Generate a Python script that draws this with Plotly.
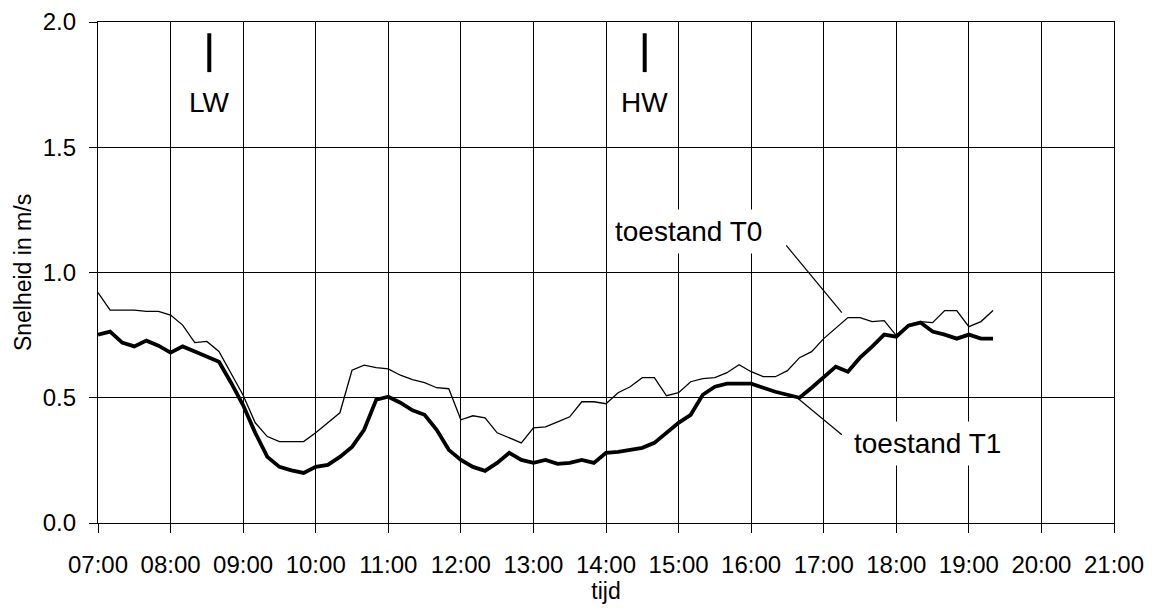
import plotly.graph_objects as go
import pandas as pd

# time stamps (10-minute steps from 07:00)
times = pd.date_range("2000-01-01 07:00", periods=75, freq="10min")

t0_values = [0.92, 0.85, 0.85, 0.85, 0.845, 0.845, 0.83, 0.79, 0.72, 0.725,
             0.685, 0.60, 0.51, 0.40, 0.345, 0.325, 0.325, 0.325, 0.36, 0.40,
             0.44, 0.61, 0.63, 0.62, 0.615, 0.59, 0.572, 0.56, 0.54, 0.536,
             0.412, 0.428, 0.42, 0.36, 0.34, 0.32, 0.38, 0.384, 0.404, 0.424,
             0.484, 0.484, 0.476, 0.52, 0.544, 0.58, 0.58, 0.508, 0.52, 0.564,
             0.576, 0.58, 0.60, 0.632, 0.604, 0.584, 0.584, 0.608, 0.66, 0.684,
             0.736, 0.78, 0.82, 0.82, 0.804, 0.808, 0.748, 0.792, 0.804, 0.80,
             0.848, 0.848, 0.784, 0.804, 0.848]

t1_values = [0.752, 0.764, 0.72, 0.705, 0.728, 0.708, 0.68, 0.705, 0.685, 0.664,
             0.644, 0.56, 0.47, 0.36, 0.264, 0.224, 0.21, 0.20, 0.224, 0.232,
             0.264, 0.304, 0.372, 0.492, 0.504, 0.48, 0.45, 0.432, 0.372, 0.292,
             0.252, 0.224, 0.208, 0.24, 0.28, 0.252, 0.24, 0.252, 0.236, 0.24,
             0.252, 0.24, 0.28, 0.284, 0.292, 0.30, 0.32, 0.36, 0.40, 0.432,
             0.512, 0.544, 0.556, 0.556, 0.556, 0.54, 0.524, 0.512, 0.50, 0.54,
             0.58, 0.624, 0.604, 0.66, 0.704, 0.752, 0.744, 0.788, 0.80, 0.764,
             0.752, 0.736, 0.752, 0.736, 0.736]

# tide markers
tide_labels = ["LW", "HW"]
tide_times = ["2000-01-01 08:32", "2000-01-01 14:32"]
tide_bar = [1.80, 1.955]
tide_label_y = 1.68

# label annotations: text position and leader line (from, to)
series_labels = ["toestand T0", "toestand T1"]
label_pos_x = ["2000-01-01 15:08", "2000-01-01 18:26"]
label_pos_y = [1.164, 0.318]
leader_x = [["2000-01-01 16:29", "2000-01-01 17:15"], ["2000-01-01 16:39", "2000-01-01 17:15"]]
leader_y = [[1.108, 0.84], [0.496, 0.352]]

FONT = "Liberation Sans, Arial, sans-serif"

fig = go.Figure()
fig.add_trace(go.Scatter(x=times, y=t0_values, mode="lines",
                         line=dict(color="black", width=1.3), name="toestand T0",
                         showlegend=False))
fig.add_trace(go.Scatter(x=times, y=t1_values, mode="lines",
                         line=dict(color="black", width=3.8), name="toestand T1",
                         showlegend=False))

for lx, ly in zip(leader_x, leader_y):
    fig.add_trace(go.Scatter(x=lx, y=ly, mode="lines",
                             line=dict(color="black", width=1.2),
                             showlegend=False, hoverinfo="skip"))

for lab, tt in zip(tide_labels, tide_times):
    fig.add_trace(go.Scatter(x=[tt, tt], y=tide_bar, mode="lines",
                             line=dict(color="black", width=4),
                             showlegend=False, hoverinfo="skip"))
    fig.add_annotation(x=tt, y=tide_label_y, text=lab, showarrow=False,
                       font=dict(family=FONT, size=28, color="black"))

for lab, px, py in zip(series_labels, label_pos_x, label_pos_y):
    fig.add_annotation(x=px, y=py, text=lab, showarrow=False,
                       bgcolor="white", borderpad=6,
                       font=dict(family=FONT, size=28, color="black"))

# the page body adds an 8px offset, compensated in the margins
fig.update_layout(
    width=1152, height=608,
    margin=dict(l=90, r=46, t=14, b=93),
    paper_bgcolor="white", plot_bgcolor="white",
    font=dict(family=FONT, size=24, color="black"),
    showlegend=False,
)
fig.update_xaxes(
    type="date", automargin=False,
    range=["2000-01-01 07:00", "2000-01-01 21:00"],
    tick0="2000-01-01 07:00", dtick=3600000, tickformat="%H:%M",
    showgrid=True, gridcolor="black", gridwidth=1.2,
    showline=True, linecolor="black", linewidth=1.2, mirror=True,
    ticks="outside", ticklen=9, tickcolor="black", tickwidth=1.2,
    tickfont=dict(size=24), ticklabelstandoff=11,
    title=dict(text="tijd", font=dict(size=23), standoff=5),
)
fig.update_yaxes(
    automargin=False,
    range=[0, 2], dtick=0.5, tickformat=".1f",
    showgrid=True, gridcolor="black", gridwidth=1.2,
    zeroline=False,
    showline=True, linecolor="black", linewidth=1.2, mirror=True,
    ticks="outside", ticklen=8, tickcolor="black", tickwidth=1.2,
    tickfont=dict(size=24), ticklabelstandoff=8,
    title=dict(text="Snelheid in m/s", font=dict(size=23), standoff=4),
)

fig.write_html("out.html")
